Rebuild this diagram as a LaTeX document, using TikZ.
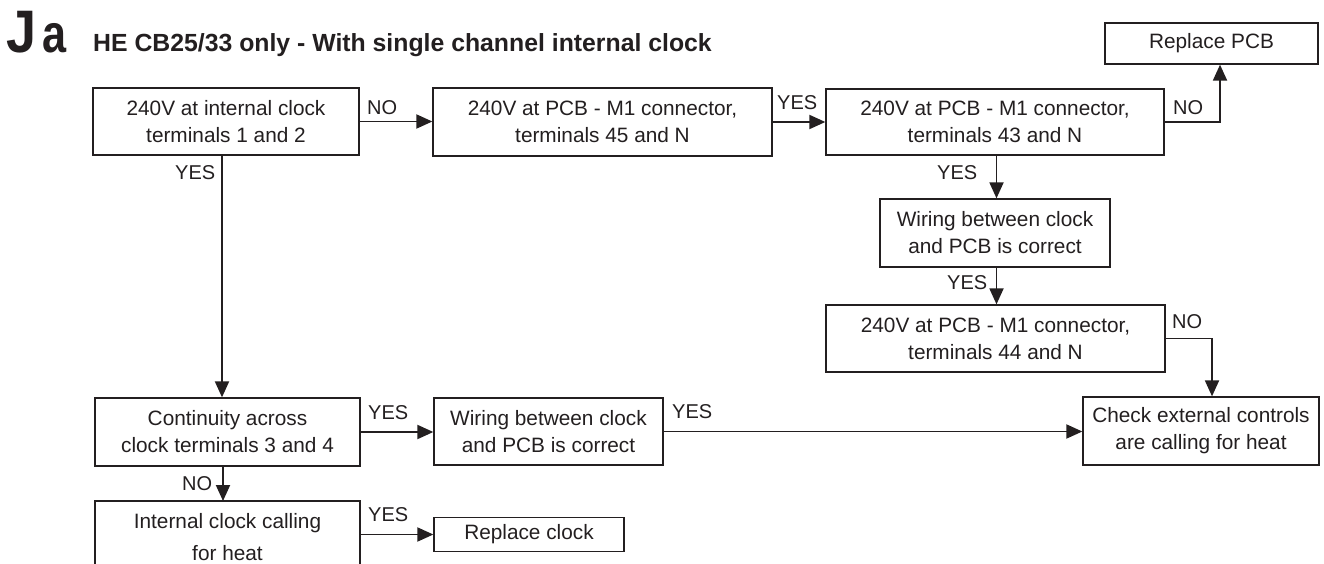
\documentclass[tikz,border=0pt]{standalone}
\usepackage{fontspec}
\setmainfont{Liberation Sans}
\usetikzlibrary{arrows.meta,calc}
\definecolor{ink}{HTML}{231F20}
\begin{document}
\begin{tikzpicture}[x=1pt,y=-1pt,
  box/.style={draw=ink, line width=1.3pt, text=ink, font=\fontsize{20.8}{27}\selectfont, align=center, inner sep=0pt, anchor=center},
  lbl/.style={text=ink, font=\fontsize{20}{24}\selectfont, inner sep=0pt, anchor=base west},
  arr/.style={draw=ink, line width=1.9pt, -{Triangle[length=16pt,width=14pt]}},
]
\clip (0,0) rectangle (1324,564);
\fill[white] (0,0) rectangle (1324,564);

% title
\node[anchor=base west, inner sep=0pt, text=ink, font=\bfseries\fontsize{60}{64}\selectfont, xscale=0.9] (jaJ) at (6,53) {J};
\node[anchor=base west, inner sep=0pt, text=ink, font=\bfseries\fontsize{54}{60}\selectfont, xscale=0.8] (jaA) at (42,53) {a};
\node[anchor=base west, inner sep=0pt, text=ink, font=\bfseries\fontsize{24.8}{28}\selectfont] (title) at (93,52) {HE CB25/33 only - With single channel internal clock};

% boxes
\node[box, minimum width=266pt, minimum height=67pt] (A) at (226,121.5) {240V at internal clock\\terminals 1 and 2};
\node[box, minimum width=339pt, minimum height=68pt] (B) at (602.5,122) {240V at PCB - M1 connector,\\terminals 45 and N};
\node[box, minimum width=338pt, minimum height=66pt] (C) at (995,122) {240V at PCB - M1 connector,\\terminals 43 and N};
\node[box, minimum width=213pt, minimum height=41pt] (RPCB) at (1211.5,43.5) {Replace PCB};
\node[box, minimum width=230pt, minimum height=68pt] (W1) at (995,233) {Wiring between clock\\and PCB is correct};
\node[box, minimum width=339pt, minimum height=67pt] (D) at (995.5,338.5) {240V at PCB - M1 connector,\\terminals 44 and N};
\node[box, minimum width=236pt, minimum height=68pt] (E) at (1201,431) {Check external controls\\are calling for heat};
\node[box, minimum width=265pt, minimum height=68pt] (F) at (227.5,432) {Continuity across\\clock terminals 3 and 4};
\node[box, minimum width=229pt, minimum height=67pt] (W2) at (548.5,431.5) {Wiring between clock\\and PCB is correct};
\node[box, minimum width=190pt, minimum height=34pt] (H) at (529,534.5) {Replace clock};

% box G (cut by the lower edge)
\draw[ink, line width=1.3pt] (95,580) |- (360,501) -- (360,580);
\node[text=ink, font=\fontsize{20.8}{27}\selectfont, align=center, inner sep=0pt, anchor=north] (G) at (227.5,513.1) {Internal clock calling\\[5pt]for heat};
\coordinate (Gtop) at (223,501);
\coordinate (Gr) at (360,534.5);

% connectors
\draw[arr] (A.east) -- (A.east -| B.west);
\draw[arr] (B.east) -- (B.east -| C.west);
\draw[arr] (C.east) -| ([xshift=8.5pt]RPCB.south);
\draw[arr] ([xshift=1.5pt]C.south) -- ([xshift=1.5pt]C.south |- W1.north);
\draw[arr] ([xshift=1.5pt]W1.south) -- ([xshift=1.5pt]W1.south |- D.north);
\draw[arr] (D.east) -| ([xshift=11pt]E.north);
\draw[arr] ([xshift=-4pt]A.south) -- ([xshift=-4pt]A.south |- F.north);
\draw[arr] ([xshift=-4.5pt]F.south) -- (Gtop);
\draw[arr] (F.east) -- (F.east -| W2.west);
\draw[arr] (W2.east) -- (W2.east -| E.west);
\draw[arr] (Gr) -- (Gr -| H.west);

% labels
\node[lbl] (nAB) at (367,115) {NO};
\node[lbl] (yBC) at (777,110) {YES};
\node[lbl] (nC) at (1173,115) {NO};
\node[lbl] (yA) at (175,180) {YES};
\node[lbl] (yC) at (937,180) {YES};
\node[lbl] (yW1) at (947,289) {YES};
\node[lbl] (nD) at (1172,328) {NO};
\node[lbl] (yF) at (368,419) {YES};
\node[lbl] (nF) at (182,490) {NO};
\node[lbl] (yG) at (368,521) {YES};
\node[lbl] (yW2) at (672,418) {YES};
\end{tikzpicture}
\end{document}
